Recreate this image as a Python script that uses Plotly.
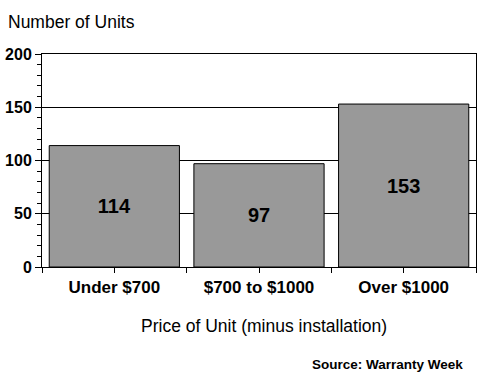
import plotly.graph_objects as go

categories = ["Under $700", "$700 to $1000", "Over $1000"]
units = [114, 97, 153]
y_ticks = [0, 50, 100, 150, 200]

FONT = "Arial, Liberation Sans, sans-serif"
xpos = list(range(len(categories)))

fig = go.Figure()
fig.add_trace(go.Bar(
    x=xpos, y=units,
    marker=dict(color="#999999", line=dict(color="black", width=1)),
    text=[str(v) for v in units],
    textposition="inside", insidetextanchor="middle",
    textfont=dict(family=FONT, size=20, color="black", weight="bold"),
    width=0.9,
    cliponaxis=False,
))

fig.update_layout(
    width=480, height=380,
    margin=dict(l=42, r=4, t=54, b=113, autoexpand=False),
    paper_bgcolor="white", plot_bgcolor="white",
    showlegend=False,
    font=dict(family=FONT, color="black"),
)

fig.update_xaxes(
    automargin=False,
    range=[-0.5, 2.5],
    tickvals=xpos, ticktext=categories,
    tickfont=dict(family=FONT, size=17, color="black", weight="bold"),
    ticks="outside", ticklen=5, tickcolor="black", tickwidth=1,
    minor=dict(tickvals=[-0.5, 0.5, 1.5, 2.5], ticks="outside", ticklen=5, tickcolor="black", tickwidth=1, showgrid=False),
    showline=True, linecolor="black", linewidth=1, mirror=True,
    showgrid=False, zeroline=False,
)
fig.update_yaxes(
    automargin=False,
    range=[0, 200], tickvals=y_ticks,
    tickfont=dict(family=FONT, size=16, color="black", weight="bold"),
    ticks="outside", ticklen=6, tickcolor="black", tickwidth=1,
    minor=dict(dtick=10, ticks="outside", ticklen=4, tickcolor="black", tickwidth=1, showgrid=False),
    showline=True, linecolor="black", linewidth=1, mirror=True,
    showgrid=True, gridcolor="black", gridwidth=1, zeroline=False,
)

fig.add_annotation(text="Number of Units", xref="paper", yref="paper",
                   x=(6 - 42) / 434, y=(267 - 22) / 213, xanchor="left", yanchor="middle",
                   showarrow=False, font=dict(family=FONT, size=17.5, color="black"))
fig.add_annotation(text="Price of Unit (minus installation)", xref="paper", yref="paper",
                   x=(263.7 - 42) / 434, y=(267 - 326) / 213, xanchor="center", yanchor="middle",
                   showarrow=False, font=dict(family=FONT, size=17.5, color="black"))
fig.add_annotation(text="<b>Source: Warranty Week</b>", xref="paper", yref="paper",
                   x=(465 - 42) / 434, y=(267 - 364) / 213, xanchor="right", yanchor="middle",
                   showarrow=False, font=dict(family=FONT, size=13.5, color="black"))

# remove the default 8px page margin so the figure fills the 480x380 window exactly
fig.write_html(
    "out.html",
    config={"displayModeBar": False, "staticPlot": True},
    post_script="document.body.style.margin='0';document.body.style.padding='0';",
)
